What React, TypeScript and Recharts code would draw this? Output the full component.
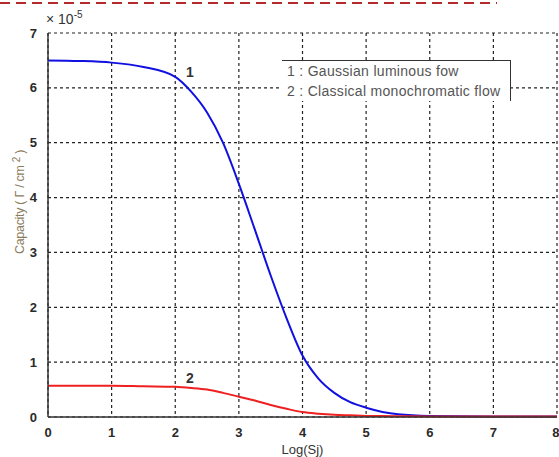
import React from "react";
import {
  LineChart,
  Line,
  XAxis,
  YAxis,
  CartesianGrid,
  ReferenceDot,
} from "recharts";

const logSj = [0, 0.5, 1, 1.5, 2, 2.25, 2.5, 2.75, 3, 3.25, 3.5, 3.75, 4, 4.25, 4.5, 4.75, 5, 5.5, 6, 7, 8];
const gaussian = [6.5, 6.49, 6.46, 6.38, 6.2, 5.93, 5.55, 5.0, 4.25, 3.42, 2.58, 1.8, 1.12, 0.7, 0.44, 0.27, 0.17, 0.05, 0.02, 0.01, 0.01];
const classical = [0.57, 0.57, 0.57, 0.56, 0.55, 0.53, 0.5, 0.44, 0.37, 0.3, 0.22, 0.15, 0.09, 0.06, 0.04, 0.03, 0.02, 0.015, 0.01, 0.01, 0.01];
const xTicks = [0, 1, 2, 3, 4, 5, 6, 7, 8];
const yTicks = [0, 1, 2, 3, 4, 5, 6, 7];
const legendLabels = ["1 : Gaussian luminous fow", "2 : Classical monochromatic flow"];

const data = logSj.map((x, i) => ({ x, g: gaussian[i], c: classical[i] }));

const font = "'Liberation Sans', Arial, sans-serif";
const tickStyle = { fill: "#2a2a2a", fontSize: 13, fontFamily: font, fontWeight: 600 };

export default function App() {
  return (
    <div style={{ position: "absolute", left: 0, top: 0, width: 559, height: 457, background: "#fff", fontFamily: font }}>
      <LineChart width={559} height={457} data={data} margin={{ top: 33, right: 2, bottom: 0, left: 0 }}>
        <CartesianGrid strokeDasharray="3 3" stroke="#222" strokeWidth={1.2} />
        <XAxis
          dataKey="x"
          type="number"
          domain={[0, 8]}
          ticks={xTicks}
          tick={tickStyle}
          tickLine={false}
          axisLine={{ stroke: "#333", strokeWidth: 1.5 }}
          height={40}
          tickMargin={5}
          label={{ value: "Log(Sj)", position: "insideBottom", offset: 3, fill: "#333", fontSize: 13, fontFamily: font }}
        />
        <XAxis xAxisId="top" orientation="top" dataKey="x" type="number" domain={[0, 8]} ticks={xTicks} tick={false} tickLine={false} axisLine={{ stroke: "#333", strokeWidth: 1.5 }} height={0} />
        <YAxis
          type="number"
          domain={[0, 7]}
          ticks={yTicks}
          tick={tickStyle}
          tickLine={false}
          axisLine={{ stroke: "#333", strokeWidth: 1.5 }}
          width={48}
          tickMargin={5}
          interval={0}
        />
        <YAxis yAxisId="right" orientation="right" type="number" domain={[0, 7]} ticks={yTicks} tick={false} tickLine={false} axisLine={{ stroke: "#333", strokeWidth: 1.5 }} width={0} />
        <Line dataKey="g" type="monotone" stroke="#1010e0" strokeWidth={2} dot={false} isAnimationActive={false} />
        <Line dataKey="c" type="monotone" stroke="#ee2020" strokeWidth={2} dot={false} isAnimationActive={false} />
        <ReferenceDot x={2.23} y={6.29} r={0} fill="none" stroke="none" label={{ value: "1", position: "center", fill: "#333", fontSize: 14, fontFamily: font, fontWeight: 600 }} />
        <ReferenceDot x={2.23} y={0.71} r={0} fill="none" stroke="none" label={{ value: "2", position: "center", fill: "#333", fontSize: 14, fontFamily: font, fontWeight: 600 }} />
      </LineChart>
      <svg width={559} height={457} style={{ position: "absolute", left: 0, top: 0, pointerEvents: "none" }}>
        <line x1={0} y1={3} x2={497} y2={3} stroke="#b22a2a" strokeWidth={2} strokeDasharray="10 6" />
        <text
          x={0}
          y={0}
          transform="translate(24 202) rotate(-90)"
          textAnchor="middle"
          fontSize={12.5}
          letterSpacing={-0.3}
          fill="#8a7c5c"
          fontFamily={font}
        >
          Capacity ( Γ / cm <tspan fontSize={10} dy={-4}>2</tspan><tspan dy={4}> )</tspan>
        </text>
      </svg>
      <div style={{ position: "absolute", left: 46, top: 9, fontSize: 14, color: "#333", fontFamily: font }}>
        × 10<sup style={{ fontSize: 10 }}>-5</sup>
      </div>
      <div
        style={{
          position: "absolute",
          left: 282,
          top: 60,
          width: 229,
          height: 41,
          background: "#fff",
          borderTop: "1.5px solid #333",
          borderRight: "1.5px solid #333",
          fontSize: 14,
          letterSpacing: 0.3,
          color: "#555",
          fontFamily: font,
          lineHeight: "20px",
          paddingLeft: 5,
          boxSizing: "border-box",
        }}
      >
        {legendLabels.map((l) => (
          <div key={l} style={{ whiteSpace: "nowrap" }}>{l}</div>
        ))}
      </div>
    </div>
  );
}
